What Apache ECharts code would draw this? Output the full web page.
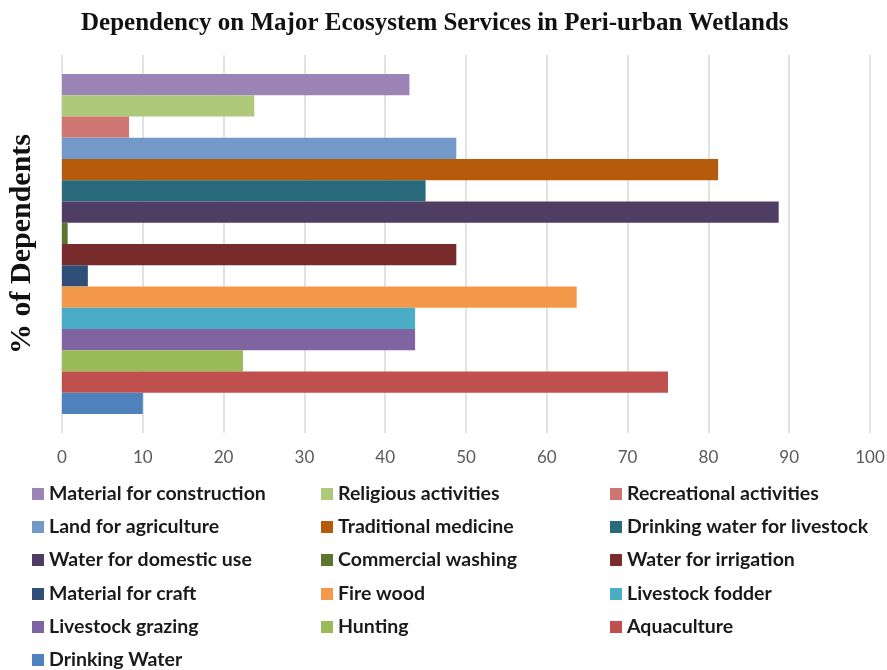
<!DOCTYPE html>
<html><head><meta charset="utf-8">
<script src="https://cdn.jsdelivr.net/npm/echarts@6/dist/echarts.min.js"></script>
<style>html,body{margin:0;padding:0;background:#fff}#c{width:887px;height:670px}</style>
</head><body><div id="c"></div>
<script>
const seriesNames = ['Material for construction','Religious activities','Recreational activities','Land for agriculture','Traditional medicine','Drinking water for livestock','Water for domestic use','Commercial washing','Water for irrigation','Material for craft','Fire wood','Livestock fodder','Livestock grazing','Hunting','Aquaculture','Drinking Water'];
const seriesValues = [43, 23.8, 8.3, 48.8, 81.2, 45, 88.7, 0.7, 48.8, 3.2, 63.7, 43.7, 43.7, 22.4, 75, 10];
const seriesColors = ['#9c85b6','#afc97a','#cd7672','#7399c9','#b65a0b','#2a6a7d','#503d64','#5e7431','#772b2b','#2f4f78','#f4994a','#4bacc6','#8064a2','#9bbb59','#c0504d','#4f81bd'];
const categories = [''];
const xTicks = {min: 0, max: 100, interval: 10};

const series = seriesNames.map((n, i) => ({
  name: n, type: 'bar', data: [seriesValues[i]],
  itemStyle: {color: seriesColors[i]},
  barGap: '0%', barCategoryGap: '10%'
}));
const legendFont = {fontFamily: 'Lato', fontWeight: 'bold', fontSize: 19.5, color: '#1a1a1a', lineHeight: 24};
const colLefts = [32, 321, 610];
const rowCenters = [494, 527, 560, 594, 627, 660];
const legends = seriesNames.map((n, i) => ({
  data: [n], orient: 'horizontal', left: colLefts[i % 3], top: rowCenters[Math.floor(i / 3)] - 12,
  icon: 'rect', itemWidth: 12, itemHeight: 12, textStyle: legendFont, selectedMode: false, padding: 0
}));

const chart = echarts.init(document.getElementById('c'), null, {renderer: 'canvas'});
chart.setOption({
  animation: false,
  title: {text: 'Dependency on Major Ecosystem Services in Peri-urban Wetlands', left: 76, top: 6,
    textStyle: {fontFamily: 'Liberation Serif', fontWeight: 'bold', fontSize: 25, color: '#111'}},
  legend: legends,
  grid: {left: 62, right: 17, top: 55, bottom: 670 - 433, outerBoundsMode: 'none', containLabel: false},
  xAxis: {type: 'value', min: xTicks.min, max: xTicks.max, interval: xTicks.interval,
    axisLine: {show: false}, axisTick: {show: false},
    splitLine: {lineStyle: {color: '#d9d9d9', width: 1.5}},
    axisLabel: {fontFamily: 'Lato', fontSize: 17, color: '#595959', margin: 16}},
  yAxis: {type: 'category', data: categories, inverse: true,
    axisLine: {show: false}, axisTick: {show: false}, axisLabel: {show: false},
    name: '% of Dependents', nameLocation: 'middle', nameGap: 25, nameRotate: 90,
    nameTextStyle: {fontFamily: 'Liberation Serif', fontWeight: 'bold', fontSize: 30, color: '#111'}},
  series: series
});
</script></body></html>
